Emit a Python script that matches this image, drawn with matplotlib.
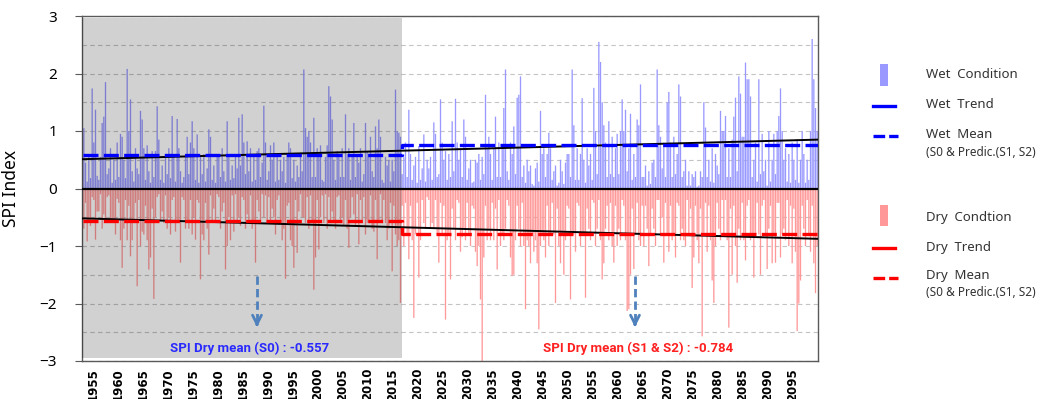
import numpy as np
import matplotlib
matplotlib.use('Agg')
import matplotlib.pyplot as plt
from matplotlib.patches import Rectangle
from matplotlib.lines import Line2D

plt.rcParams['font.family'] = ['Noto Sans', 'DejaVu Sans']

# period S0 (observed, 1953-2016) and S1 & S2 (predicted, 2017-2099), 3 values per year
years_s0 = list(range(1953, 2017))
years_s12 = list(range(2017, 2100))

wet_s0 = [
    1.05, 0.45, 0.12, 0.55, 0.18, 1.74,   # 1953-54
    0.80, 1.37, 0.22, 0.15, 0.55, 1.14,   # 1955-56
    1.25, 1.85, 0.25, 0.35, 0.70, 0.10,   # 1957-58
    0.50, 0.15, 0.80, 0.20, 0.95, 0.90,   # 1959-60
    0.50, 0.18, 2.08, 1.00, 1.55, 0.30,   # 1961-62
    0.12, 0.70, 0.35, 0.25, 1.35, 1.20,   # 1963-64
    0.70, 0.15, 0.75, 0.30, 0.10, 0.65,   # 1965-66
    0.20, 0.65, 1.43, 0.85, 0.15, 0.40,   # 1967-68
    0.10, 0.60, 0.25, 0.70, 0.18, 1.26,   # 1969-70
    0.60, 0.12, 1.21, 0.70, 0.30, 0.10,   # 1971-72
    0.20, 0.60, 0.90, 0.25, 0.80, 1.17,   # 1973-74
    0.70, 0.15, 0.94, 0.10, 0.55, 0.25,   # 1975-76
    0.60, 0.12, 0.35, 1.03, 0.90, 0.15,   # 1977-78
    0.40, 0.10, 0.60, 0.60, 0.20, 0.70,   # 1979-80
    0.30, 0.12, 1.17, 0.60, 0.15, 0.40,   # 1981-82
    0.18, 0.60, 0.35, 1.23, 0.40, 1.29,   # 1983-84
    0.80, 0.25, 0.82, 0.30, 0.70, 0.12,   # 1985-86
    0.55, 0.15, 0.65, 0.70, 0.20, 0.45,   # 1987-88
    1.44, 0.80, 0.15, 0.30, 0.75, 0.50,   # 1989-90
    0.80, 0.12, 0.60, 0.15, 0.50, 0.30,   # 1991-92
    0.55, 0.10, 0.60, 0.80, 0.70, 0.18,   # 1993-94
    0.50, 0.12, 0.40, 0.20, 0.55, 0.30,   # 1995-96
    2.07, 1.05, 0.90, 1.00, 0.80, 0.20,   # 1997-98
    1.23, 0.20, 0.70, 0.60, 0.75, 0.15,   # 1999-2000
    0.12, 0.55, 0.75, 1.78, 1.60, 1.20,   # 2001-02
    0.50, 0.15, 0.65, 0.60, 0.20, 0.70,   # 2003-04
    0.20, 1.29, 0.60, 0.70, 0.15, 0.55,   # 2005-06
    1.14, 0.20, 0.60, 0.45, 0.70, 0.12,   # 2007-08
    0.25, 1.14, 0.65, 0.60, 0.90, 0.30,   # 2009-10
    0.20, 1.08, 0.70, 1.20, 0.90, 0.15,   # 2011-12
    0.10, 0.55, 0.40, 0.50, 0.12, 0.50,   # 2013-14
    0.30, 1.72, 1.00, 0.97, 0.90, 0.25,   # 2015-16
]

dry_s0 = [
    -0.70, -0.25, -0.92, -0.55, -0.65, -0.15,   # 1953-54
    -0.20, -0.89, -0.40, -0.40, -0.10, -0.70,   # 1955-56
    -0.45, -0.60, -0.15, -0.12, -0.55, -0.60,   # 1957-58
    -0.60, -0.80, -0.18, -0.25, -0.90, -1.38,   # 1959-60
    -0.70, -0.20, -0.90, -0.30, -1.18, -0.90,   # 1961-62
    -0.60, -0.25, -1.70, -0.20, -1.00, -0.75,   # 1963-64
    -0.80, -0.30, -0.90, -1.41, -1.20, -0.35,   # 1965-66
    -1.92, -0.50, -0.15, -0.10, -0.55, -0.40,   # 1967-68
    -0.60, -0.12, -0.70, -0.50, -0.80, -0.20,   # 1969-70
    -0.15, -0.75, -0.60, -0.60, -1.29, -0.15,   # 1971-72
    -0.20, -0.70, -0.60, -0.70, -0.20, -0.80,   # 1973-74
    -0.50, -0.89, -0.20, -0.25, -1.58, -0.80,   # 1975-76
    -0.90, -0.25, -0.70, -1.15, -0.12, -0.55,   # 1977-78
    -0.35, -0.60, -0.10, -0.15, -0.70, -0.40,   # 1979-80
    -0.25, -1.41, -1.00, -0.50, -0.90, -0.12,   # 1981-82
    -0.75, -0.10, -0.60, -0.50, -0.65, -0.15,   # 1983-84
    -0.20, -0.70, -0.45, -0.55, -0.12, -0.70,   # 1985-86
    -0.60, -1.29, -0.20, -0.40, -0.55, -0.10,   # 1987-88
    -0.50, -0.12, -0.60, -0.15, -0.60, -0.35,   # 1989-90
    -0.50, -0.80, -0.20, -0.12, -0.60, -0.90,   # 1991-92
    -0.70, -1.57, -0.30, -0.25, -0.90, -1.00,   # 1993-94
    -1.38, -0.20, -1.12, -0.40, -0.10, -0.50,   # 1995-96
    -0.50, -0.60, -0.15, -0.70, -0.12, -0.60,   # 1997-98
    -1.76, -1.20, -0.20, -1.06, -0.50, -0.12,   # 1999-2000
    -0.60, -0.10, -0.70, -0.15, -0.60, -0.40,   # 2001-02
    -0.55, -0.70, -0.15, -0.12, -0.60, -0.50,   # 2003-04
    -0.65, -0.20, -0.70, -1.03, -0.50, -0.15,   # 2005-06
    -0.45, -0.65, -0.10, -0.97, -0.20, -0.60,   # 2007-08
    -0.15, -0.80, -0.60, -0.55, -0.12, -0.70,   # 2009-10
    -0.75, -0.20, -1.23, -0.60, -0.10, -0.55,   # 2011-12
    -0.20, -0.60, -0.90, -0.70, -0.25, -1.44,   # 2013-14
    -0.30, -0.80, -1.00, -0.90, -1.99, -0.30,   # 2015-16
]

wet_s12 = [
    0.55, 0.80, 0.20, 1.37, 0.60, 0.15,   # 2017-18
    0.40, 0.55, 0.10, 0.74, 0.15, 0.35,   # 2019-20
    0.94, 0.12, 0.50, 0.35, 0.55, 0.15,   # 2021-22
    1.15, 0.95, 0.20, 0.25, 1.55, 0.80,   # 2023-24
    0.50, 0.65, 0.15, 0.60, 0.20, 1.17,   # 2025-26
    0.30, 1.56, 0.80, 0.50, 0.70, 0.20,   # 2027-28
    1.20, 0.90, 0.15, 0.35, 0.50, 0.10,   # 2029-30
    0.12, 0.50, 0.45, 0.60, 0.15, 0.55,   # 2031-32
    0.25, 1.63, 0.70, 0.90, 0.60, 0.15,   # 2033-34
    0.70, 1.25, 0.20, 0.80, 0.20, 0.70,   # 2035-36
    1.40, 2.07, 0.30, 0.15, 0.80, 0.60,   # 2037-38
    1.08, 0.25, 1.58, 1.63, 1.95, 0.20,   # 2039-40
    0.40, 0.10, 0.50, 0.30, 0.40, 0.08,   # 2041-42
    0.05, 0.35, 0.45, 0.12, 1.35, 0.60,   # 2043-44
    0.70, 0.20, 0.60, 0.97, 0.70, 0.15,   # 2045-46
    0.30, 0.40, 0.05, 0.10, 0.50, 0.30,   # 2047-48
    0.08, 0.45, 0.60, 0.60, 0.20, 2.07,   # 2049-50
    1.10, 0.15, 0.70, 0.15, 0.60, 1.57,   # 2051-52
    0.50, 0.10, 0.70, 0.40, 0.60, 0.15,   # 2053-54
    1.75, 1.00, 0.25, 2.55, 2.20, 1.50,   # 2055-56
    1.10, 0.80, 0.20, 1.17, 0.25, 0.90,   # 2057-58
    0.20, 0.70, 0.95, 0.25, 1.00, 1.55,   # 2059-60
    1.00, 1.37, 0.30, 0.70, 1.30, 0.15,   # 2061-62
    0.60, 0.20, 1.20, 1.10, 1.81, 0.20,   # 2063-64
    0.20, 0.40, 0.05, 0.30, 0.08, 0.45,   # 2065-66
    0.50, 0.20, 2.07, 1.10, 0.90, 0.35,   # 2067-68
    0.80, 0.20, 1.50, 1.68, 0.80, 0.20,   # 2069-70
    0.90, 0.25, 0.60, 1.81, 1.60, 0.20,   # 2071-72
    0.30, 0.50, 0.05, 0.30, 0.05, 0.25,   # 2073-74
    0.20, 0.30, 0.03, 0.05, 0.30, 0.20,   # 2075-76
    1.50, 1.06, 0.20, 0.50, 0.12, 0.70,   # 2077-78
    0.10, 0.60, 0.40, 0.25, 1.35, 1.00,   # 2079-80
    1.00, 1.26, 0.20, 0.70, 0.20, 0.85,   # 2081-82
    1.25, 1.58, 0.30, 1.95, 1.65, 0.90,   # 2083-84
    0.90, 2.19, 1.90, 1.90, 1.60, 0.20,   # 2085-86
    0.50, 0.80, 0.12, 1.90, 0.25, 0.95,   # 2087-88
    0.30, 0.50, 0.05, 1.00, 0.12, 0.50,   # 2089-90
    0.95, 0.25, 1.00, 1.26, 1.74, 1.00,   # 2091-92
    0.50, 0.70, 0.12, 0.60, 0.10, 0.80,   # 2093-94
    0.50, 0.15, 0.85, 0.10, 0.50, 1.00,   # 2095-96
    0.60, 0.10, 0.50, 0.15, 1.00, 2.60,   # 2097-98
    1.90, 1.40, 1.00,                     # 2099
]

dry_s12 = [
    -1.00, -0.25, -0.80, -1.23, -0.30, -0.90,   # 2017-18
    -2.25, -0.80, -0.25, -1.55, -0.90, -0.20,   # 2019-20
    -0.60, -0.70, -0.15, -0.20, -0.70, -0.60,   # 2021-22
    -0.70, -0.20, -0.80, -1.29, -0.25, -0.80,   # 2023-24
    -0.30, -2.28, -0.90, -0.80, -1.58, -0.35,   # 2025-26
    -0.70, -0.90, -0.20, -0.25, -1.10, -0.85,   # 2027-28
    -0.70, -0.90, -0.25, -0.80, -1.00, -0.30,   # 2029-30
    -0.35, -1.10, -1.35, -1.00, -1.93, -3.00,   # 2031-32
    -1.20, -0.30, -0.90, -0.70, -0.90, -0.25,   # 2033-34
    -0.90, -0.35, -1.41, -0.20, -1.00, -0.80,   # 2035-36
    -0.90, -0.70, -0.20, -0.30, -1.20, -1.52,   # 2037-38
    -1.50, -0.90, -0.30, -0.70, -1.00, -0.25,   # 2039-40
    -1.00, -2.10, -0.90, -1.00, -1.30, -0.80,   # 2041-42
    -1.10, -0.90, -1.30, -2.45, -1.00, -0.80,   # 2043-44
    -0.90, -1.20, -0.30, -1.00, -0.80, -0.25,   # 2045-46
    -0.80, -1.99, -0.35, -1.00, -1.30, -0.80,   # 2047-48
    -1.50, -0.90, -0.30, -0.35, -1.93, -0.80,   # 2049-50
    -0.80, -1.10, -0.25, -0.30, -1.00, -0.75,   # 2051-52
    -0.80, -1.90, -0.35, -0.70, -0.90, -0.20,   # 2053-54
    -0.25, -1.00, -0.70, -0.20, -0.90, -1.58,   # 2055-56
    -1.30, -0.70, -0.30, -0.90, -0.25, -1.00,   # 2057-58
    -1.29, -0.30, -1.00, -0.70, -0.90, -0.20,   # 2059-60
    -0.30, -0.90, -2.13, -2.10, -1.50, -0.35,   # 2061-62
    -1.40, -0.80, -0.25, -0.90, -1.00, -0.30,   # 2063-64
    -1.00, -0.30, -0.70, -1.35, -0.80, -0.35,   # 2065-66
    -0.70, -1.00, -0.20, -0.20, -0.80, -0.50,   # 2067-68
    -1.29, -0.25, -0.80, -1.10, -0.30, -0.90,   # 2069-70
    -0.80, -1.20, -0.25, -0.30, -0.90, -0.70,   # 2071-72
    -0.90, -1.00, -0.20, -0.80, -0.35, -1.73,   # 2073-74
    -1.20, -0.30, -0.90, -1.30, -0.35, -2.57,   # 2075-76
    -0.80, -0.25, -1.10, -0.30, -0.90, -1.60,   # 2077-78
    -1.99, -1.00, -0.25, -0.70, -0.90, -0.20,   # 2079-80
    -0.80, -0.20, -0.90, -2.42, -0.35, -1.50,   # 2081-82
    -0.30, -1.00, -1.64, -0.70, -0.90, -0.25,   # 2083-84
    -0.90, -1.25, -0.30, -0.20, -0.90, -0.80,   # 2085-86
    -1.55, -0.80, -0.25, -0.80, -1.50, -0.30,   # 2087-88
    -0.20, -0.80, -1.40, -0.70, -0.30, -1.30,   # 2089-90
    -0.80, -1.29, -0.25, -0.25, -1.20, -0.80,   # 2091-92
    -0.70, -0.90, -0.20, -1.00, -0.30, -1.30,   # 2093-94
    -0.35, -1.10, -2.48, -2.00, -1.60, -0.30,   # 2095-96
    -0.70, -1.00, -0.20, -0.80, -1.10, -0.30,   # 2097-98
    -1.30, -1.82, -1.00,                        # 2099
]

# means and trends
wet_mean = [0.575, 0.765]      # S0, S1&S2
dry_mean = [-0.557, -0.784]
trend_years = [1953, 2100]
wet_trend = [0.51, 0.85]
dry_trend = [-0.52, -0.875]
split_year = 2016.75

wet_col = '#9898ff'
dry_col = '#ff9898'

fig = plt.figure(figsize=(10.54, 3.99), dpi=100)
ax = fig.add_axes([82 / 1054, 1 - 361 / 399, 736 / 1054, 345 / 399])

sub = np.array([1 / 6, 1 / 2, 5 / 6])
x_s0 = (np.array(years_s0)[:, None] + sub).ravel()
x_s12 = (np.array(years_s12)[:, None] + sub).ravel()
x_all = np.concatenate([x_s0, x_s12])
wet = np.array(wet_s0 + wet_s12)
dry = np.array(dry_s0 + dry_s12)

ax.bar(x_all, wet, width=0.26, color=wet_col, linewidth=0, zorder=2, snap=False)
ax.bar(x_all, dry, width=0.26, color=dry_col, linewidth=0, zorder=2, snap=False)

# grey shade over the observed period
ax.add_patch(Rectangle((1952.85, -2.95), split_year - 1952.85, 5.91,
                       facecolor='black', alpha=0.18, edgecolor='none', zorder=3))

# zero line
ax.plot([1952.85, 2099.95], [0, 0], color='black', lw=1.6, zorder=4)

# trend lines
ax.plot(trend_years, wet_trend, color='black', lw=1.4, zorder=5)
ax.plot(trend_years, dry_trend, color='black', lw=1.4, zorder=5)

# mean step lines
step_x = [1953, split_year, split_year, 2100]
ax.plot(step_x, [wet_mean[0], wet_mean[0], wet_mean[1], wet_mean[1]],
        color='#0000ff', lw=2.4, ls=(0, (4.5, 1.6)), zorder=6)
ax.plot(step_x, [dry_mean[0], dry_mean[0], dry_mean[1], dry_mean[1]],
        color='#ff0000', lw=2.4, ls=(0, (4.5, 1.6)), zorder=6)

# arrows and captions
arrow_col = '#4f81bd'
for xa in [1987.8, 2063.4]:
    ax.plot([xa, xa], [-1.52, -2.32], color=arrow_col, lw=2, ls=(0, (3, 1.5)), zorder=6)
    ax.annotate('', xy=(xa, -2.46), xytext=(xa, -2.3),
                arrowprops=dict(arrowstyle='->', color=arrow_col, lw=2, mutation_scale=16),
                zorder=6)
cap_font = ['Roboto', 'DejaVu Sans']
ax.text(1986.4, -2.78, 'SPI Dry mean (S0) : -0.557', color='#2a2aff', family=cap_font,
        fontsize=9.5, fontweight='bold', ha='center', va='center', zorder=7)
ax.text(2064.1, -2.78, 'SPI Dry mean (S1 & S2) : -0.784', color='#ff2020', family=cap_font,
        fontsize=9.5, fontweight='bold', ha='center', va='center', zorder=7)

ax.set_xlim(1952.8, 2100)
ax.set_ylim(-3, 3)
ax.set_yticks(range(-3, 4))
ax.set_yticks([-2.5, -1.5, -0.5, 0.5, 1.5, 2.5], minor=True)
ax.yaxis.grid(True, which='both', color='#c4c4c4', ls=(0, (4, 3)), lw=0.8, zorder=1)
ax.set_axisbelow(True)
ax.tick_params(axis='y', which='major', length=5, pad=13, labelsize=11, color='#595959')
ax.tick_params(axis='y', which='minor', length=0)

xt = list(range(1955, 2100, 5))
ax.set_xticks(xt)
ax.set_xticklabels([str(t) for t in xt], rotation=90, fontsize=8.5, fontweight='bold',
                   family=['Liberation Sans Narrow', 'DejaVu Sans'])
ax.tick_params(axis='x', length=0, pad=5)

for s in ax.spines.values():
    s.set_color('#595959')
    s.set_linewidth(1)

ax.set_ylabel('SPI Index', fontsize=12.5)
ax.yaxis.set_label_coords(-0.084, 0.5)


# legend drawn in figure pixels
def fx(px):
    return px / 1054


def fy(py):
    return 1 - py / 399


def leg_patch(y, col):
    fig.add_artist(Rectangle((fx(880), fy(y + 10.5)), 8 / 1054, 21 / 399,
                             transform=fig.transFigure, facecolor=col, edgecolor='none'))


def leg_line(y, col, dashed):
    ls = (0, (3.5, 1.2)) if dashed else '-'
    fig.add_artist(Line2D([fx(873), fx(898 if dashed else 895)], [fy(y), fy(y)],
                          transform=fig.transFigure, color=col, lw=2.4, ls=ls))


def leg_text(y, s, size=9.5):
    fig.text(fx(926), fy(y), s, fontsize=size, color='#333333', ha='left', va='center')


leg_patch(75, '#9999ff')
leg_text(74, 'Wet  Condition')
leg_line(105.5, '#0000ff', False)
leg_text(105, 'Wet  Trend')
leg_line(135.5, '#0000ff', True)
leg_text(135, 'Wet  Mean')
leg_text(152, '(S0 & Predic.(S1, S2)', 8.5)

leg_patch(215.5, '#ff9999')
leg_text(217, 'Dry  Condtion')
leg_line(248, '#ff0000', False)
leg_text(247, 'Dry  Trend')
leg_line(277.5, '#ff0000', True)
leg_text(276, 'Dry  Mean')
leg_text(293, '(S0 & Predic.(S1, S2)', 8.5)

fig.savefig('out.png', dpi=100)
